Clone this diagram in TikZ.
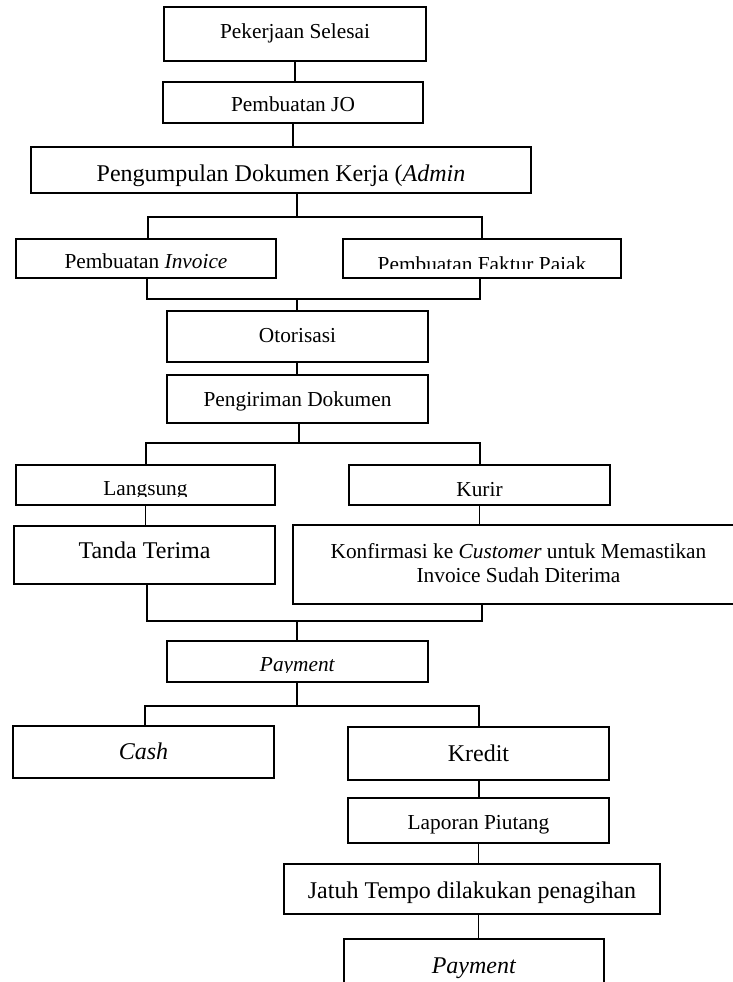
\documentclass[tikz,border=0pt]{standalone}
\usepackage{fontspec}
\setmainfont{Liberation Serif}
\usetikzlibrary{fit}
\begin{document}
\begin{tikzpicture}[x=0.5625pt,y=-0.5625pt,
  box/.style={draw, line width=1.1pt, inner sep=0pt, rectangle},
  conn/.style={line width=0.9pt},
  smalltxt/.style={font=\fontsize{12}{13.8}\selectfont, inner sep=0pt, anchor=base},
  bigtxt/.style={font=\fontsize{13.5}{15.5}\selectfont, inner sep=0pt, anchor=base}]
\clip (0,0) rectangle (733,982);

% boxes
\node[box, fit={(164,7) (426,61)}] (b1) {};
\node[smalltxt] (t1) at (295,39) {Pekerjaan Selesai};
\node[box, fit={(163,82) (423,123)}] (b2) {};
\node[smalltxt] (t2) at (293,112) {Pembuatan JO};
\node[box, fit={(31,147) (531,193)}] (b3) {};
\node[bigtxt] (t3) at (281,181) {Pengumpulan Dokumen Kerja (\textit{Admin}};
\node[box, fit={(16,239) (276,278)}] (b4) {};
\node[smalltxt] (t4) at (146,268) {Pembuatan \textit{Invoice}};
\node[box, fit={(343,239) (621,278)}] (b5) {};
\begin{scope}
  \clip (343,239) rectangle (621,268.5);
  \node[smalltxt] (t5) at (482,271) {Pembuatan Faktur Pajak};
\end{scope}
\node[box, fit={(167,311) (428,362)}] (b6) {};
\node[smalltxt] (t6) at (297.5,342) {Otorisasi};
\node[box, fit={(167,375) (428,423)}] (b7) {};
\node[smalltxt] (t7) at (297.5,406) {Pengiriman Dokumen};
\node[box, fit={(16,465) (275,505)}] (b8) {};
\begin{scope}
  \clip (16,465) rectangle (275,496);
  \node[smalltxt] (t8) at (145.5,495) {Langsung};
\end{scope}
\node[box, fit={(349,465) (610,505)}] (b9) {};
\node[smalltxt] (t9) at (479.5,496) {Kurir};
\node[box, fit={(14,526) (275,584)}] (b10) {};
\node[bigtxt] (t10) at (144.5,558) {Tanda Terima};
\node[box, fit={(293,525) (744,604)}] (b11) {};
\node[smalltxt] (t11a) at (518.5,558) {Konfirmasi ke \textit{Customer} untuk Memastikan};
\node[smalltxt] (t11b) at (518.5,582) {Invoice Sudah Diterima};
\node[box, fit={(167,641) (428,682)}] (b12) {};
\begin{scope}
  \clip (167,641) rectangle (428,672);
  \node[smalltxt] (t12) at (297.5,671) {\textit{Payment}};
\end{scope}
\node[box, fit={(13,726) (274,778)}] (b13) {};
\node[bigtxt] (t13) at (143.5,759) {\textit{Cash}};
\node[box, fit={(348,727) (609,780)}] (b14) {};
\node[bigtxt] (t14) at (478.5,761) {Kredit};
\node[box, fit={(348,798) (609,843)}] (b15) {};
\node[smalltxt] (t15) at (478.5,829) {Laporan Piutang};
\node[box, fit={(284,864) (660,914)}] (b16) {};
\node[bigtxt] (t16) at (472,898) {Jatuh Tempo dilakukan penagihan};
\node[box, fit={(344,939) (604,1000)}] (b17) {};
\node[bigtxt] (t17) at (474,973) {\textit{Payment}};

% junctions
\coordinate (j1) at (297,217);
\coordinate (L1) at (148,217);
\coordinate (R1) at (482,217);
\coordinate (j2) at (297,299);
\coordinate (L2) at (147,299);
\coordinate (R2) at (480,299);
\coordinate (j3) at (299,443);
\coordinate (L3) at (146,443);
\coordinate (R3) at (480,443);
\coordinate (j4) at (297,621);
\coordinate (L4) at (147,621);
\coordinate (R4) at (482,621);
\coordinate (j5) at (297,706);
\coordinate (L5) at (145,706);
\coordinate (R5) at (479,706);

% connectors
\draw[conn] (b1.south) -- (b1.south |- b2.north);
\draw[conn] (b2.south) -- (b2.south |- b3.north);
\draw[conn] (j1 |- b3.south) -- (j1);
\draw[conn] (L1 |- b4.north) -- (L1) -- (R1) -- (R1 |- b5.north);
\draw[conn] (L2 |- b4.south) -- (L2) -- (R2) -- (R2 |- b5.south);
\draw[conn] (j2) -- (j2 |- b6.north);
\draw[conn] (j2 |- b6.south) -- (j2 |- b7.north);
\draw[conn] (j3 |- b7.south) -- (j3);
\draw[conn] (L3 |- b8.north) -- (L3) -- (R3) -- (R3 |- b9.north);
\draw[conn] (b8.south) -- (b8.south |- b10.north);
\draw[conn] (b9.south) -- (b9.south |- b11.north);
\draw[conn] (L4 |- b10.south) -- (L4) -- (R4) -- (R4 |- b11.south);
\draw[conn] (j4) -- (j4 |- b12.north);
\draw[conn] (j5 |- b12.south) -- (j5);
\draw[conn] (L5 |- b13.north) -- (L5) -- (R5) -- (R5 |- b14.north);
\draw[conn] (R5 |- b14.south) -- (R5 |- b15.north);
\draw[conn] (b15.south) -- (b15.south |- b16.north);
\draw[conn] (b15.south |- b16.south) -- (b15.south |- b17.north);
\end{tikzpicture}
\end{document}
